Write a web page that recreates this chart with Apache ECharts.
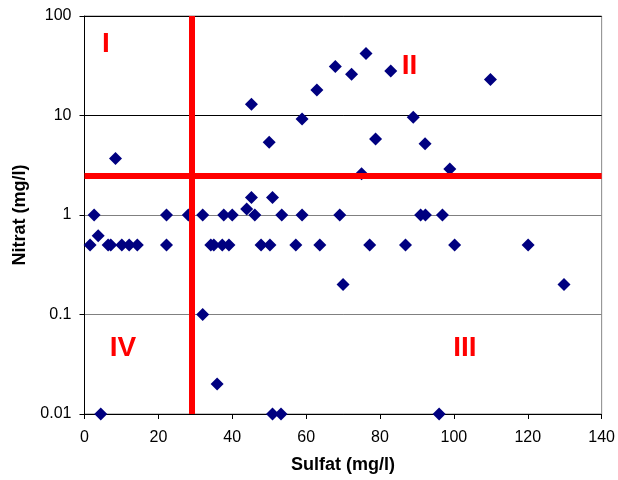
<!DOCTYPE html>
<html>
<head>
<meta charset="utf-8">
<script src="https://cdn.jsdelivr.net/npm/echarts@6/dist/echarts.min.js"></script>
<style>
  html, body { margin: 0; padding: 0; background: #fff; }
  #main { width: 618px; height: 480px; }
</style>
</head>
<body>
<div id="main"></div>
<script>
// measured samples
var sulfat = [1.5, 2.6, 3.7, 4.4, 6.4, 7.1, 8.4, 10.1, 12.1, 14.3,
  22.2, 22.2, 28.1, 32, 32, 34.2, 35, 35.9, 37.3, 37.7,
  39.1, 40, 43.9, 45.2, 45.2, 46.1, 47.8, 50, 50.2, 50.9,
  50.9, 53.2, 53.4, 57.2, 58.9, 58.9, 62.9, 63.7, 67.9, 69.1,
  70, 72.3, 75, 76.2, 77.2, 78.8, 82.9, 86.9, 89, 91,
  92.2, 92.3, 96, 96.9, 98.9, 100.2, 109.9, 120.1, 129.8];
var nitrat = [0.5, 1, 0.62, 0.01, 0.5, 0.5, 3.7, 0.5, 0.5, 0.5,
  1, 0.5, 1, 1, 0.1, 0.5, 0.5, 0.02, 0.5, 1,
  0.5, 1, 1.15, 13, 1.5, 1, 0.5, 5.4, 0.5, 1.5,
  0.01, 0.01, 1, 0.5, 9.2, 1, 18, 0.5, 31, 1,
  0.2, 26, 2.6, 42, 0.5, 5.8, 28, 0.5, 9.6, 1,
  5.2, 1, 0.01, 1, 2.9, 0.5, 23, 0.5, 0.2];

// threshold lines
var sulfatLimit = 29;
var nitratLimit = 2.5;

// quadrant labels
var quadNames = ['I', 'II', 'III', 'IV'];
var quadX = [5.8, 88, 103, 10.4];
var quadY = [52, 31, 0.046, 0.046];

var points = sulfat.map(function (s, i) { return [s, nitrat[i]]; });
var quadData = quadNames.map(function (n, i) {
  return { value: [quadX[i], quadY[i]], name: n };
});

var chart = echarts.init(document.getElementById('main'));
var font = 'Liberation Sans, Arial, sans-serif';

var option = {
  animation: false,
  textStyle: { fontFamily: font },
  grid: {
    left: 84.5, right: 16, top: 16, bottom: 66,
    show: true, borderColor: '#888', borderWidth: 1
  },
  xAxis: {
    type: 'value',
    min: 0, max: 140, interval: 20,
    name: 'Sulfat (mg/l)',
    nameLocation: 'middle',
    nameGap: 42,
    nameTextStyle: { fontWeight: 'bold', fontSize: 18, color: '#000', fontFamily: font },
    axisLine: { lineStyle: { color: '#000', width: 1 } },
    axisTick: { show: true, inside: false, length: 5, lineStyle: { color: '#000' } },
    axisLabel: { color: '#000', fontSize: 16, margin: 16, fontFamily: font },
    splitLine: { show: false }
  },
  yAxis: {
    type: 'log',
    logBase: 10,
    min: 0.01, max: 100,
    name: 'Nitrat (mg/l)',
    nameLocation: 'middle',
    nameGap: 51,
    nameRotate: 90,
    nameTextStyle: { fontWeight: 'bold', fontSize: 18, color: '#000', fontFamily: font },
    axisLine: { show: true, lineStyle: { color: '#000', width: 1 } },
    axisTick: { show: true, inside: false, length: 5, lineStyle: { color: '#000' } },
    axisLabel: {
      color: '#000', fontSize: 16, margin: 13, fontFamily: font,
      formatter: function (v) { return String(+v.toPrecision(3)); }
    },
    splitLine: { show: true, lineStyle: { color: ['#808080', '#808080', '#808080', '#000', '#000'], width: 1 } },
    minorSplitLine: { show: false }
  },
  series: [
    {
      type: 'scatter',
      data: points,
      symbol: 'diamond',
      symbolSize: 13,
      itemStyle: { color: '#000080', opacity: 1 },
      z: 2,
      markLine: {
        silent: true,
        symbol: 'none',
        label: { show: false },
        lineStyle: { color: '#ff0000', width: 6, type: 'solid', opacity: 1 },
        data: [
          { xAxis: sulfatLimit },
          { yAxis: nitratLimit }
        ],
        z: 5
      }
    },
    {
      type: 'scatter',
      data: quadData,
      symbolSize: 0,
      silent: true,
      z: 6,
      itemStyle: { opacity: 1 },
      label: {
        show: true,
        position: 'inside',
        formatter: '{b}',
        color: '#ff0000',
        fontSize: 28,
        fontWeight: 'bold',
        fontFamily: font
      }
    }
  ]
};

chart.setOption(option);
</script>
</body>
</html>
